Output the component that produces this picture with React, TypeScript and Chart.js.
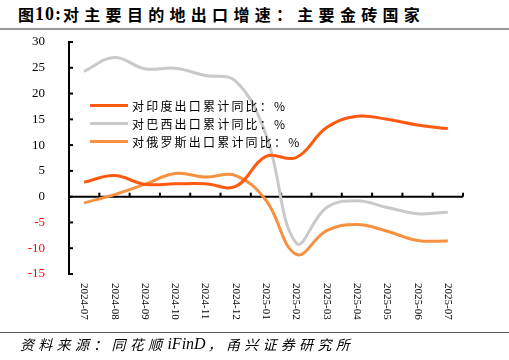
import React, { useEffect, useRef } from "react";
import { Chart, registerables } from "chart.js";

Chart.register(...registerables);

const categories = [
  "2024-07", "2024-08", "2024-09", "2024-10", "2024-11", "2024-12",
  "2025-01", "2025-02", "2025-03", "2025-04", "2025-05", "2025-06", "2025-07",
];
const indiaValues = [2.8, 4.1, 2.4, 2.5, 2.5, 2.0, 7.8, 7.6, 13.4, 15.6, 15.0, 13.9, 13.2];
const brazilValues = [24.3, 27.0, 24.8, 24.9, 23.5, 22.4, 12.0, -9.0, -2.1, -0.8, -2.1, -3.3, -3.0];
const russiaValues = [-1.2, 0.4, 2.4, 4.5, 3.8, 4.1, -0.7, -11.2, -6.6, -5.4, -6.7, -8.5, -8.6];
const seriesNames = ["对印度出口累计同比：%", "对巴西出口累计同比：%", "对俄罗斯出口累计同比：%"];
const seriesColors = ["#FF5A0F", "#C9C9C9", "#F7913F"];
const yMin = -15;
const yMax = 30;
const yStep = 5;

const axisPlugin = {
  id: "customAxes",
  beforeDatasetsDraw(chart: any) {
    const { ctx, chartArea, scales } = chart;
    const x = scales.x;
    const y = scales.y;
    const zeroY = y.getPixelForValue(0);
    ctx.save();
    ctx.strokeStyle = "#000";
    ctx.lineWidth = 2;
    ctx.beginPath();
    ctx.moveTo(chartArea.left, zeroY);
    ctx.lineTo(chartArea.right, zeroY);
    ctx.stroke();
    const n = categories.length;
    for (let i = 0; i < n; i++) {
      const bx = i < n - 1
        ? (x.getPixelForValue(i) + x.getPixelForValue(i + 1)) / 2
        : chartArea.right;
      ctx.beginPath();
      ctx.moveTo(bx, zeroY);
      ctx.lineTo(bx, zeroY - 4);
      ctx.stroke();
    }
    for (let v = yMin; v <= yMax; v += yStep) {
      const py = y.getPixelForValue(v);
      ctx.beginPath();
      ctx.moveTo(chartArea.left, py);
      ctx.lineTo(chartArea.left + 4, py);
      ctx.stroke();
    }
    ctx.fillStyle = "#000";
    ctx.font = "11px 'Liberation Serif', serif";
    ctx.textAlign = "left";
    ctx.textBaseline = "middle";
    for (let i = 0; i < n; i++) {
      const px = x.getPixelForValue(i);
      ctx.save();
      ctx.translate(px, chartArea.bottom + 9);
      ctx.rotate(Math.PI / 2);
      ctx.fillText(categories[i], 0, 0);
      ctx.restore();
    }
    ctx.restore();
  },
};

export default function App() {
  const ref = useRef<HTMLCanvasElement>(null);
  useEffect(() => {
    if (!ref.current) return;
    const values = [indiaValues, brazilValues, russiaValues];
    const chart = new Chart(ref.current, {
      type: "line",
      data: {
        labels: categories,
        datasets: values.map((v, i) => ({
          label: seriesNames[i],
          data: v,
          borderColor: seriesColors[i],
          backgroundColor: seriesColors[i],
          borderWidth: 3,
          pointRadius: 0,
          tension: 0.4,
          fill: false,
        })),
      },
      options: {
        responsive: false,
        animation: false,
        layout: { padding: { left: 0, top: 42, right: 46, bottom: 86 } },
        plugins: { legend: { display: false }, tooltip: { enabled: false } },
        scales: {
          x: { type: "category", offset: true, display: false },
          y: {
            min: yMin,
            max: yMax,
            grid: { display: false },
            border: { display: true, color: "#000", width: 2 },
            ticks: {
              stepSize: yStep,
              padding: 16,
              font: { family: "'Liberation Serif', serif", size: 13 },
              color: (c: any) => (c.tick && c.tick.value < 0 ? "#FF0000" : "#000"),
            },
            afterFit: (s: any) => {
              s.width = 69;
            },
          },
        },
      },
      plugins: [axisPlugin],
    });
    return () => chart.destroy();
  }, []);

  const cjk = "'Noto Sans CJK SC', sans-serif";
  return (
    <div style={{ position: "fixed", left: 0, top: 0, width: 509, height: 360, background: "#fff", overflow: "hidden" }}>
      <div style={{ position: "absolute", left: 18, top: 3, height: 22, display: "flex", alignItems: "center", whiteSpace: "nowrap", fontWeight: "bold", color: "#000" }}>
        <span style={{ fontFamily: cjk, fontSize: 16, letterSpacing: 0 }}>图</span>
        <span style={{ fontFamily: "'Liberation Serif', serif", fontSize: 18, letterSpacing: 1, margin: "0 1px" }}>10:</span>
        <span style={{ fontFamily: cjk, fontSize: 16, letterSpacing: 5.3 }}>对主要目的地出口增速：主要金砖国家</span>
      </div>
      <div style={{ position: "absolute", left: 0, top: 28, width: 509, height: 2, background: "#9a9a9a" }} />
      <canvas ref={ref} width={509} height={360} style={{ position: "absolute", left: 0, top: 0 }} />
      {seriesNames.map((name, i) => (
        <div key={name} style={{ position: "absolute", left: 90, top: 105 + i * 18 - 9, height: 18, display: "flex", alignItems: "center", whiteSpace: "nowrap" }}>
          <span style={{ display: "inline-block", width: 38, height: 3, background: seriesColors[i], marginRight: 4 }} />
          <span style={{ fontFamily: cjk, fontSize: 12, letterSpacing: 2.2, color: "#000" }}>{name}</span>
        </div>
      ))}
      <div style={{ position: "absolute", left: 0, top: 332, width: 509, height: 1, background: "#555" }} />
      <div style={{ position: "absolute", left: 20, top: 335, height: 18, display: "flex", alignItems: "center", whiteSpace: "nowrap", fontStyle: "italic", color: "#000" }}>
        <span style={{ fontFamily: cjk, fontSize: 14, letterSpacing: 4.3 }}>资料来源：同花顺</span>
        <span style={{ fontFamily: "'Liberation Serif', serif", fontSize: 16, margin: "0 2px 0 1px" }}>iFinD</span>
        <span style={{ fontFamily: cjk, fontSize: 14, letterSpacing: 4.3 }}>，甬兴证券研究所</span>
      </div>
    </div>
  );
}
